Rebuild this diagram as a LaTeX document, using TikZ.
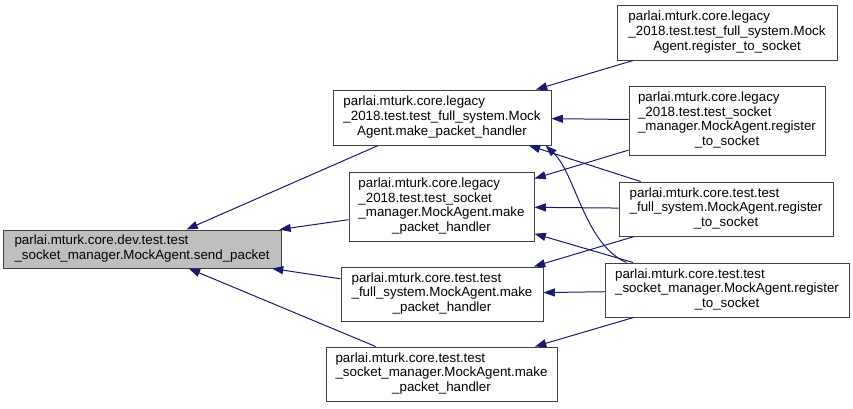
\documentclass[tikz,border=0pt]{standalone}
\usepackage{fontspec}
\setmainfont{Liberation Sans}
\usepackage{tikz}
\usetikzlibrary{arrows.meta}

\definecolor{edgeblue}{HTML}{191970}
\definecolor{rootgray}{HTML}{BFBFBF}
\definecolor{boxline}{HTML}{404040}

% left-justified lines, last line centred
\newcommand{\fnlabel}[2]{\begin{tabular}{@{}l@{}}#1\\\multicolumn{1}{@{}c@{}}{#2}\end{tabular}}

\begin{document}
\begin{tikzpicture}[
  x=0.75pt, y=-0.75pt,
  font=\fontsize{10}{11}\selectfont,
  fn/.style={draw=boxline, line width=0.75pt, fill=white, inner sep=0pt,
    align=center},
  rootfn/.style={fn, fill=rootgray},
  edge/.style={draw=edgeblue, line width=0.75pt,
    -{Triangle[length=8.5pt, width=6pt]}},
]
  \useasboundingbox (0,0) rectangle (853,408);

  \node[rootfn, minimum width=208.5pt, minimum height=28.5pt] (root) at (142,249)
    {\fnlabel{parlai.mturk.core.dev.test.test}{\_socket\_manager.MockAgent.send\_packet}};

  % direct callers
  \node[fn, minimum width=163.5pt, minimum height=41.25pt] (m1) at (442,117.5)
    {\fnlabel{parlai.mturk.core.legacy\\\_2018.test.test\_full\_system.Mock}{Agent.make\_packet\_handler}};
  \node[fn, minimum width=138.75pt, minimum height=51.75pt] (m2) at (441.5,206.5)
    {\fnlabel{parlai.mturk.core.legacy\\\_2018.test.test\_socket\\\_manager.MockAgent.make}{\_packet\_handler}};
  \node[fn, minimum width=151.5pt, minimum height=40.5pt] (m3) at (442,294)
    {\fnlabel{parlai.mturk.core.test.test\\\_full\_system.MockAgent.make}{\_packet\_handler}};
  \node[fn, minimum width=173.25pt, minimum height=40.5pt] (m4) at (441.5,374)
    {\fnlabel{parlai.mturk.core.test.test\\\_socket\_manager.MockAgent.make}{\_packet\_handler}};

  % register_to_socket
  \node[fn, minimum width=165pt, minimum height=41.25pt] (r1) at (727,32.5)
    {\fnlabel{parlai.mturk.core.legacy\\\_2018.test.test\_full\_system.Mock}{Agent.register\_to\_socket}};
  \node[fn, minimum width=147pt, minimum height=51.75pt] (r2) at (727,120.5)
    {\fnlabel{parlai.mturk.core.legacy\\\_2018.test.test\_socket\\\_manager.MockAgent.register}{\_to\_socket}};
  \node[fn, minimum width=160.5pt, minimum height=40.5pt] (r3) at (726,209)
    {\fnlabel{parlai.mturk.core.test.test\\\_full\_system.MockAgent.register}{\_to\_socket}};
  \node[fn, minimum width=183pt, minimum height=40.5pt] (r4) at (727,290)
    {\fnlabel{parlai.mturk.core.test.test\\\_socket\_manager.MockAgent.register}{\_to\_socket}};

  \draw[edge] (m1) -- (root);
  \draw[edge] (m2) -- (root);
  \draw[edge] (m3) -- (root);
  \draw[edge] (m4) -- (root);

  \draw[edge] (r1) -- (m1);
  \draw[edge] (r2) -- (m1);
  \draw[edge] (r3) -- (m1);
  \draw[edge] ([xshift=16.5pt]r4.north west) .. controls +(-42,-18) and +(30,28) .. ([xshift=-4.5pt]m1.south east);

  \draw[edge] (r2) -- (m2);
  \draw[edge] (r3) -- (m2);
  \draw[edge] (r4) -- (m2);

  \draw[edge] (r3) -- (m3);
  \draw[edge] (r4) -- (m3);
  \draw[edge] (r4) -- (m4);
\end{tikzpicture}
\end{document}
